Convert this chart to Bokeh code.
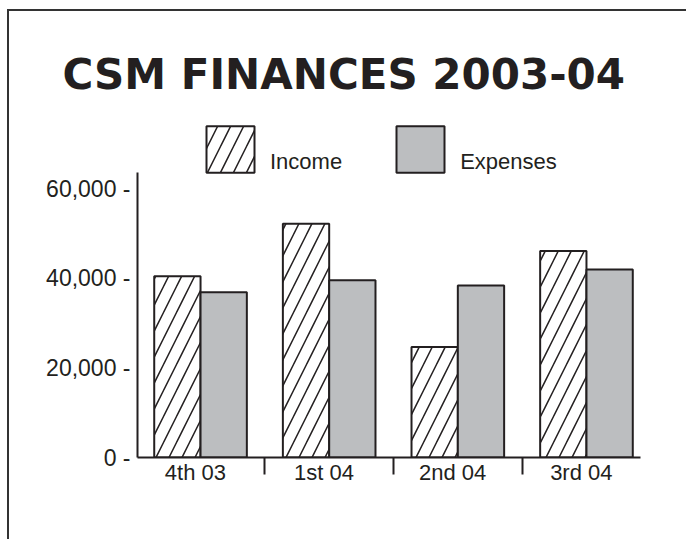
from bokeh.plotting import figure
from bokeh.models import Range1d, FixedTicker, Legend, LegendItem
from bokeh.embed import file_html
from bokeh.resources import INLINE
import numpy as np

title = "CSM FINANCES 2003-04"
categories = ["4th 03", "1st 04", "2nd 04", "3rd 04"]
income = [40500, 52200, 24700, 46100]
expenses = [36900, 39600, 38400, 42000]
y_ticks = [0, 20000, 40000, 60000]
y_tick_labels = ["0 -", "20,000 -", "40,000 -", "60,000 -"]
series_names = ["Income", "Expenses"]

INK = "#231f20"
GREY = "#bcbec0"
BAR_W = 0.36
LABEL_SHIFT = -0.04
Y_AXIS_TOP = 63650   # where the drawn y axis line stops
Y_END = 77500        # frame extends above the axis to hold the legend

x = np.arange(len(categories))

p = figure(width=686, height=539, output_backend="svg", toolbar_location=None,
           x_range=Range1d(-0.49, 3.42), y_range=Range1d(0, Y_END),
           min_border_left=137, min_border_right=46, min_border_top=110,
           min_border_bottom=82)
p.grid.visible = False
p.outline_line_color = None
p.background_fill_color = None
p.border_fill_color = None
p.styles = {
    "position": "fixed",
    "top": "0px",
    "left": "0px",
    "background": ("linear-gradient(#333333, #333333) 7px 9px / 700px 2px no-repeat, "
                   "linear-gradient(#333333, #333333) 7px 9px / 2px 600px no-repeat, "
                   "white"),
}

r_inc = p.vbar(x=x - BAR_W / 2, top=income, width=BAR_W, bottom=0,
               fill_color="white", line_color=INK, line_width=2,
               hatch_pattern="/", hatch_color=INK, hatch_scale=26, hatch_weight=1.5)
r_exp = p.vbar(x=x + BAR_W / 2, top=expenses, width=BAR_W, bottom=0,
               fill_color=GREY, line_color=INK, line_width=2)

# x axis
xa = p.xaxis[0]
xa.ticker = FixedTicker(ticks=list(x + LABEL_SHIFT), minor_ticks=list(x[:-1] + 0.5))
xa.major_label_overrides = {float(v + LABEL_SHIFT): c for v, c in zip(x, categories)}
xa.major_tick_line_color = None
xa.major_tick_out = 0
xa.major_tick_in = 0
xa.minor_tick_out = 17
xa.minor_tick_in = 0
xa.minor_tick_line_width = 2
xa.minor_tick_line_color = INK
xa.axis_line_width = 2
xa.axis_line_color = INK
xa.major_label_text_font = "Liberation Sans"
xa.major_label_text_font_size = "22px"
xa.major_label_text_color = INK
xa.major_label_standoff = -15

# y axis
ya = p.yaxis[0]
ya.ticker = FixedTicker(ticks=y_ticks)
ya.bounds = (0, Y_AXIS_TOP)
ya.major_label_overrides = {t: l for t, l in zip(y_ticks, y_tick_labels)}
ya.major_tick_line_color = None
ya.minor_tick_line_color = None
ya.major_tick_out = 0
ya.major_tick_in = 0
ya.axis_line_width = 2
ya.axis_line_color = INK
ya.major_label_text_font = "Liberation Sans"
ya.major_label_text_font_size = "23px"
ya.major_label_text_color = INK
ya.major_label_standoff = 7

# legend (inside the frame, just above the axis top)
legend = Legend(items=[LegendItem(label="\n" + series_names[0], renderers=[r_inc]),
                       LegendItem(label="\n" + series_names[1], renderers=[r_exp])],
                orientation="horizontal", location=(63, 279),
                glyph_width=60, glyph_height=58, label_standoff=10, spacing=48,
                padding=0, margin=0, border_line_color=None,
                background_fill_alpha=0,
                label_text_font="Liberation Sans", label_text_font_size="22px",
                label_text_color=INK)
p.add_layout(legend, "center")

# title
p.title.text = title
p.title.text_font = "DejaVu Sans"
p.title.text_font_style = "bold"
p.title.text_font_size = "42px"
p.title.text_color = INK
p.title.align = "left"
p.title.offset = -75
p.title.standoff = 24

open("out.html", "w").write(file_html(p, INLINE))
